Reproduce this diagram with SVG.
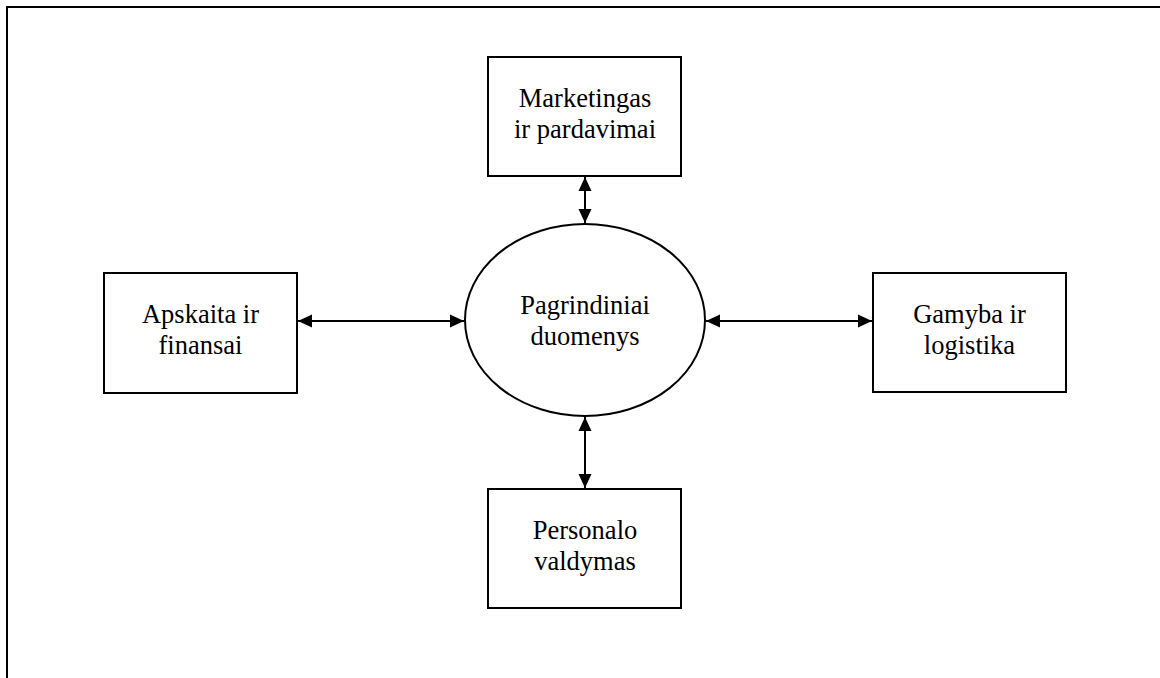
<svg xmlns="http://www.w3.org/2000/svg" width="1160" height="678" viewBox="0 0 1160 678">
  <style>
    .node { fill: #fff; stroke: #000; stroke-width: 2; }
    .lbl { font-family: "Liberation Serif", "Times New Roman", serif; font-size: 26.5px; fill: #000; text-anchor: middle; }
    .link { stroke: #000; stroke-width: 2; fill: none; marker-start: url(#head); marker-end: url(#head); }
  </style>
  <defs>
    <marker id="head" viewBox="0 0 14 14" refX="14" refY="7" markerWidth="14" markerHeight="14" markerUnits="userSpaceOnUse" orient="auto-start-reverse">
      <path d="M0,0.5 L14,7 L0,13.5 Z" fill="#000"/>
    </marker>
  </defs>
  <rect width="1160" height="678" fill="#fff"/>
  <!-- outer frame -->
  <path d="M7,690 V7 H1170" fill="none" stroke="#000" stroke-width="2"/>

  <g id="connectors">
    <line class="link" x1="585" y1="177" x2="585" y2="223"/>
    <line class="link" x1="298" y1="321" x2="464" y2="321"/>
    <line class="link" x1="706" y1="321" x2="872" y2="321"/>
    <line class="link" x1="585" y1="417" x2="585" y2="488"/>
  </g>

  <g id="core">
    <ellipse class="node" cx="585" cy="320" rx="120" ry="96"/>
    <text class="lbl" x="585" y="314">Pagrindiniai</text>
    <text class="lbl" x="585" y="345">duomenys</text>
  </g>

  <g id="marketing">
    <rect class="node" x="488" y="57" width="193" height="119"/>
    <text class="lbl" x="585" y="107">Marketingas</text>
    <text class="lbl" x="585" y="138">ir pardavimai</text>
  </g>

  <g id="accounting">
    <rect class="node" x="104" y="273" width="193" height="120"/>
    <text class="lbl" x="200.5" y="323">Apskaita ir</text>
    <text class="lbl" x="200.5" y="354">finansai</text>
  </g>

  <g id="production">
    <rect class="node" x="873" y="273" width="193" height="119"/>
    <text class="lbl" x="969.5" y="323">Gamyba ir</text>
    <text class="lbl" x="969.5" y="354">logistika</text>
  </g>

  <g id="personnel">
    <rect class="node" x="488" y="489" width="193" height="119"/>
    <text class="lbl" x="585" y="539">Personalo</text>
    <text class="lbl" x="585" y="570">valdymas</text>
  </g>
</svg>
